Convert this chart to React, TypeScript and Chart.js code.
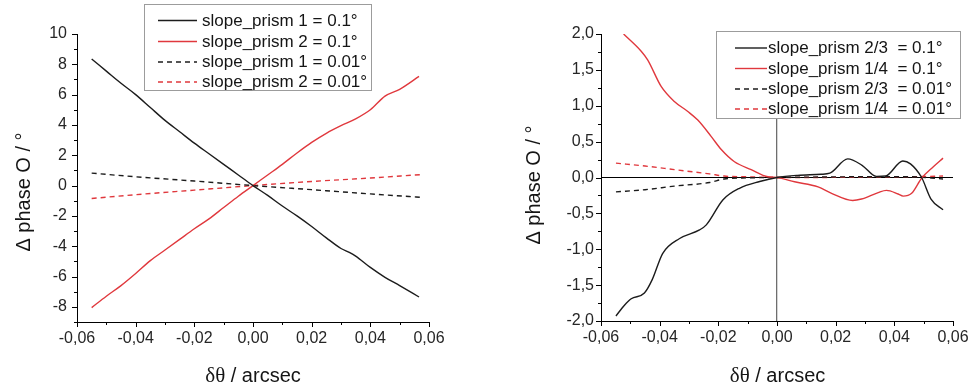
import React, { useEffect, useRef } from 'react';
import { Chart, registerables } from 'chart.js';
Chart.register(...registerables);

// ---------- data ----------
const X_TICKS = [-0.06, -0.04, -0.02, 0, 0.02, 0.04, 0.06];
const X_MINOR = [-0.05, -0.03, -0.01, 0.01, 0.03, 0.05];
const LEFT_Y_TICKS = [-8, -6, -4, -2, 0, 2, 4, 6, 8, 10];
const LEFT_Y_MINOR = [-9, -7, -5, -3, -1, 1, 3, 5, 7, 9];
const RIGHT_Y_TICKS = [-2, -1.5, -1, -0.5, 0, 0.5, 1, 1.5, 2];
const RIGHT_Y_MINOR = [-1.75, -1.25, -0.75, -0.25, 0.25, 0.75, 1.25, 1.75];

const LEFT_LABELS = ['slope_prism 1 = 0.1°', 'slope_prism 2 = 0.1°', 'slope_prism 1 = 0.01°', 'slope_prism 2 = 0.01°'];
const RIGHT_LABELS = ['slope_prism 2/3  = 0.1°', 'slope_prism 1/4  = 0.1°', 'slope_prism 2/3  = 0.01°', 'slope_prism 1/4  = 0.01°'];

// left chart
const L1_X = [-0.055, -0.05, -0.045, -0.04, -0.035, -0.03, -0.025, -0.02, -0.015, -0.01, -0.005, 0, 0.005, 0.01, 0.015, 0.02, 0.025, 0.03, 0.033, 0.035, 0.04, 0.045, 0.05, 0.0566];
const L1_Y = [8.35, 7.55, 6.75, 6.0, 5.15, 4.3, 3.55, 2.8, 2.1, 1.4, 0.7, 0.0, -0.65, -1.35, -2.0, -2.7, -3.45, -4.15, -4.42, -4.65, -5.4, -6.05, -6.6, -7.35];
const L2_X = [-0.055, -0.05, -0.045, -0.04, -0.035, -0.03, -0.025, -0.02, -0.015, -0.01, -0.005, 0, 0.005, 0.01, 0.015, 0.02, 0.025, 0.03, 0.035, 0.04, 0.045, 0.05, 0.0566];
const L2_Y = [-8.05, -7.3, -6.6, -5.8, -4.95, -4.25, -3.55, -2.85, -2.2, -1.45, -0.7, 0.0, 0.7, 1.4, 2.15, 2.85, 3.45, 3.95, 4.4, 5.0, 5.9, 6.35, 7.2];
const L3_X = [-0.055, -0.04, -0.02, 0, 0.02, 0.04, 0.057];
const L3_Y = [0.82, 0.58, 0.3, 0.0, -0.27, -0.55, -0.77];
const L4_X = [-0.055, -0.04, -0.02, 0, 0.02, 0.04, 0.057];
const L4_Y = [-0.85, -0.6, -0.3, 0.0, 0.27, 0.5, 0.72];

// right chart
const R1_X = [-0.0549, -0.052, -0.0497, -0.0452, -0.0425, -0.039, -0.0332, -0.0264, -0.0241, -0.0184, -0.0128, -0.0059, 0, 0.007, 0.015, 0.018, 0.0241, 0.029, 0.0339, 0.037, 0.0429, 0.0455, 0.0493, 0.0525, 0.0566];
const R1_Y = [-1.93, -1.78, -1.69, -1.61, -1.42, -1.06, -0.85, -0.73, -0.66, -0.31, -0.15, -0.056, 0, 0.03, 0.045, 0.06, 0.26, 0.17, 0.015, 0.02, 0.23, 0.19, 0.0, -0.3, -0.45];
const R2_X = [-0.0523, -0.0463, -0.0441, -0.0395, -0.035, -0.0304, -0.027, -0.0224, -0.019, -0.0145, -0.0088, -0.0031, 0, 0.006, 0.014, 0.0186, 0.0258, 0.0288, 0.0345, 0.0373, 0.0413, 0.043, 0.0459, 0.0493, 0.0533, 0.0566];
const R2_Y = [2.0, 1.76, 1.64, 1.27, 1.06, 0.92, 0.8, 0.57, 0.39, 0.22, 0.11, 0.01, 0, -0.06, -0.13, -0.22, -0.32, -0.3, -0.21, -0.18, -0.23, -0.26, -0.22, -0.01, 0.15, 0.27];
const R3_X = [-0.0549, -0.045, -0.035, -0.023, -0.018, -0.01, 0, 0.01, 0.03, 0.045, 0.0566];
const R3_Y = [-0.2, -0.17, -0.12, -0.07, -0.02, -0.005, 0, 0.005, 0.01, 0.01, -0.02];
const R4_X = [-0.0549, -0.045, -0.035, -0.023, -0.018, -0.01, 0, 0.01, 0.03, 0.045, 0.0566];
const R4_Y = [0.2, 0.16, 0.11, 0.05, 0.02, 0.01, 0, 0.0, 0.005, 0.01, 0.02];

// ---------- styling ----------
const SANS = '"Liberation Sans", Arial, sans-serif';
const SERIF = '"Liberation Serif", "Times New Roman", serif';
const BLACK = '#1c1c1c';
const RED = '#e0383d';
const DASH = [5, 4];

const pts = (xs: number[], ys: number[]) => xs.map((x, i) => ({ x, y: ys[i] }));

const fmtX = (v: number) => (Math.abs(v) < 1e-9 ? 0 : v).toFixed(2).replace('.', ',');
const fmtYR = (v: number) => (Math.abs(v) < 1e-9 ? 0 : v).toFixed(1).replace('.', ',');
const fmtYL = (v: number) => String(Math.round(v));

function ds(label: string, xs: number[], ys: number[], color: string, dashed: boolean) {
  return {
    label,
    data: pts(xs, ys),
    borderColor: color,
    backgroundColor: color,
    borderWidth: 1.4,
    borderDash: dashed ? DASH : [],
    pointRadius: 0,
    cubicInterpolationMode: 'monotone' as const,
    fill: false,
  };
}

type Cfg = {
  datasets: any[];
  yMin: number; yMax: number;
  yTicks: number[]; yMinor: number[]; yFmt: (v: number) => string;
  yWidth: number; xHeight: number;
  pad: { left: number; right: number; top: number; bottom: number };
  yPad: number;
  zeroLines: boolean;
  legend: { x: number; y: number; w: number; h: number; rows: number[]; l0: number; l1: number; tx: number };
  xTitle: { x: number; y: number };
  yTitle: { x: number; y: number };
};

function makePlugin(cfg: Cfg) {
  return {
    id: 'custom',
    afterDraw(chart: any) {
      const ctx = chart.ctx as CanvasRenderingContext2D;
      const xs = chart.scales.x;
      const ys = chart.scales.y;
      const area = chart.chartArea;
      ctx.save();
      // tick marks
      ctx.strokeStyle = '#000';
      ctx.lineWidth = 1;
      ctx.beginPath();
      const xt = (vals: number[], len: number) => {
        vals.forEach((v) => {
          const px = Math.round(xs.getPixelForValue(v)) + 0.5;
          ctx.moveTo(px, area.bottom);
          ctx.lineTo(px, area.bottom + len);
        });
      };
      const yt = (vals: number[], len: number) => {
        vals.forEach((v) => {
          const py = Math.round(ys.getPixelForValue(v)) + 0.5;
          ctx.moveTo(area.left - len, py);
          ctx.lineTo(area.left, py);
        });
      };
      xt(X_TICKS, 5);
      xt(X_MINOR, 3);
      yt(cfg.yTicks, 5);
      yt(cfg.yMinor, 3);
      ctx.stroke();

      // legend
      const L = cfg.legend;
      ctx.fillStyle = '#fff';
      ctx.fillRect(L.x, L.y, L.w, L.h);
      ctx.strokeStyle = '#9c9c9c';
      ctx.lineWidth = 1;
      ctx.strokeRect(L.x + 0.5, L.y + 0.5, L.w, L.h);
      ctx.font = '17px ' + SANS;
      ctx.textBaseline = 'middle';
      ctx.textAlign = 'left';
      chart.data.datasets.forEach((d: any, i: number) => {
        const ry = L.rows[i];
        ctx.beginPath();
        ctx.strokeStyle = d.borderColor;
        ctx.lineWidth = 1.4;
        ctx.setLineDash(d.borderDash || []);
        ctx.moveTo(L.l0, ry + 0.5);
        ctx.lineTo(L.l1, ry + 0.5);
        ctx.stroke();
        ctx.setLineDash([]);
        ctx.fillStyle = '#151515';
        ctx.fillText(d.label, L.tx, ry + 1);
      });

      // axis titles (mixed fonts)
      const drawMixed = (segs: { t: string; f: string }[], cx: number, cy: number, rot: number) => {
        ctx.save();
        ctx.translate(cx, cy);
        ctx.rotate(rot);
        ctx.fillStyle = '#151515';
        ctx.textBaseline = 'middle';
        ctx.textAlign = 'left';
        let total = 0;
        const widths = segs.map((s) => {
          ctx.font = s.f;
          const w = ctx.measureText(s.t).width;
          total += w;
          return w;
        });
        let x = -total / 2;
        segs.forEach((s, i) => {
          ctx.font = s.f;
          ctx.fillText(s.t, x, 0);
          x += widths[i];
        });
        ctx.restore();
      };
      drawMixed(
        [
          { t: 'δθ', f: '21px ' + SERIF },
          { t: ' / arcsec', f: '20px ' + SANS },
        ],
        cfg.xTitle.x, cfg.xTitle.y, 0
      );
      drawMixed([{ t: 'Δ phase O / °', f: '20px ' + SANS }], cfg.yTitle.x, cfg.yTitle.y, -Math.PI / 2);
      ctx.restore();
    },
  };
}

function buildConfig(cfg: Cfg): any {
  return {
    type: 'line',
    data: { datasets: cfg.datasets },
    options: {
      animation: false,
      responsive: false,
      maintainAspectRatio: false,
      layout: { padding: cfg.pad },
      plugins: { legend: { display: false }, tooltip: { enabled: false }, title: { display: false } },
      scales: {
        x: {
          type: 'linear',
          min: -0.06,
          max: 0.06,
          afterBuildTicks: (s: any) => {
            s.ticks = X_TICKS.map((v) => ({ value: v }));
          },
          afterFit: (s: any) => {
            s.height = cfg.xHeight;
            s.paddingLeft = 0;
            s.paddingRight = 0;
          },
          ticks: {
            callback: (v: any) => fmtX(Number(v)),
            font: { size: 16, family: SANS },
            color: '#262626',
            padding: 7,
            maxRotation: 0,
            autoSkip: false,
          },
          grid: {
            display: true,
            drawTicks: false,
            drawOnChartArea: true,
            lineWidth: 1.3,
            color: (c: any) => (cfg.zeroLines && c.tick && Math.abs(c.tick.value) < 1e-9 ? '#6e6e6e' : 'rgba(0,0,0,0)'),
          },
          border: { display: true, color: '#000', width: 1 },
        },
        y: {
          type: 'linear',
          min: cfg.yMin,
          max: cfg.yMax,
          afterBuildTicks: (s: any) => {
            s.ticks = cfg.yTicks.map((v) => ({ value: v }));
          },
          afterFit: (s: any) => {
            s.width = cfg.yWidth;
            s.paddingTop = 0;
            s.paddingBottom = 0;
          },
          ticks: {
            callback: (v: any) => cfg.yFmt(Number(v)),
            font: { size: 16, family: SANS },
            color: '#262626',
            padding: cfg.yPad,
            autoSkip: false,
          },
          grid: {
            display: true,
            drawTicks: false,
            drawOnChartArea: true,
            lineWidth: 1,
            color: (c: any) => (cfg.zeroLines && c.tick && Math.abs(c.tick.value) < 1e-9 ? '#000' : 'rgba(0,0,0,0)'),
          },
          border: { display: true, color: '#000', width: 1 },
        },
      },
    },
    plugins: [makePlugin(cfg)],
  };
}

const leftCfg: Cfg = {
  datasets: [
    ds(LEFT_LABELS[0], L1_X, L1_Y, BLACK, false),
    ds(LEFT_LABELS[1], L2_X, L2_Y, RED, false),
    ds(LEFT_LABELS[2], L3_X, L3_Y, BLACK, true),
    ds(LEFT_LABELS[3], L4_X, L4_Y, RED, true),
  ],
  yMin: -9,
  yMax: 10,
  yTicks: LEFT_Y_TICKS,
  yMinor: LEFT_Y_MINOR,
  yFmt: fmtYL,
  yWidth: 77,
  xHeight: 67,
  pad: { left: 0, right: 56, top: 34, bottom: 0 },
  yPad: 10,
  zeroLines: false,
  legend: { x: 144, y: 4, w: 227, h: 86, rows: [20, 41, 61.5, 81.5], l0: 158, l1: 197, tx: 202 },
  xTitle: { x: 253, y: 376 },
  yTitle: { x: 24, y: 192 },
};

const rightCfg: Cfg = {
  datasets: [
    ds(RIGHT_LABELS[0], R1_X, R1_Y, BLACK, false),
    ds(RIGHT_LABELS[1], R2_X, R2_Y, RED, false),
    ds(RIGHT_LABELS[2], R3_X, R3_Y, BLACK, true),
    ds(RIGHT_LABELS[3], R4_X, R4_Y, RED, true),
  ],
  yMin: -2,
  yMax: 2,
  yTicks: RIGHT_Y_TICKS,
  yMinor: RIGHT_Y_MINOR,
  yFmt: fmtYR,
  yWidth: 116,
  xHeight: 68,
  pad: { left: 0, right: 17, top: 34, bottom: 0 },
  yPad: 7,
  zeroLines: true,
  legend: { x: 231, y: 31, w: 244, h: 87, rows: [47.5, 68, 88.5, 108.5], l0: 250, l1: 282, tx: 283 },
  xTitle: { x: 292.5, y: 376 },
  yTitle: { x: 49, y: 185 },
};

function ChartCanvas({ cfg, left }: { cfg: Cfg; left: number }) {
  const ref = useRef<HTMLCanvasElement | null>(null);
  useEffect(() => {
    if (!ref.current) return;
    const chart = new Chart(ref.current, buildConfig(cfg));
    return () => chart.destroy();
  }, [cfg]);
  return (
    <canvas
      ref={ref}
      width={485}
      height={389}
      style={{ position: 'absolute', left, top: 0, width: 485, height: 389 }}
    />
  );
}

export default function App() {
  return (
    <div style={{ position: 'absolute', left: 0, top: 0, width: 970, height: 389, background: '#fff', overflow: 'hidden' }}>
      <ChartCanvas cfg={leftCfg} left={0} />
      <ChartCanvas cfg={rightCfg} left={485} />
    </div>
  );
}
